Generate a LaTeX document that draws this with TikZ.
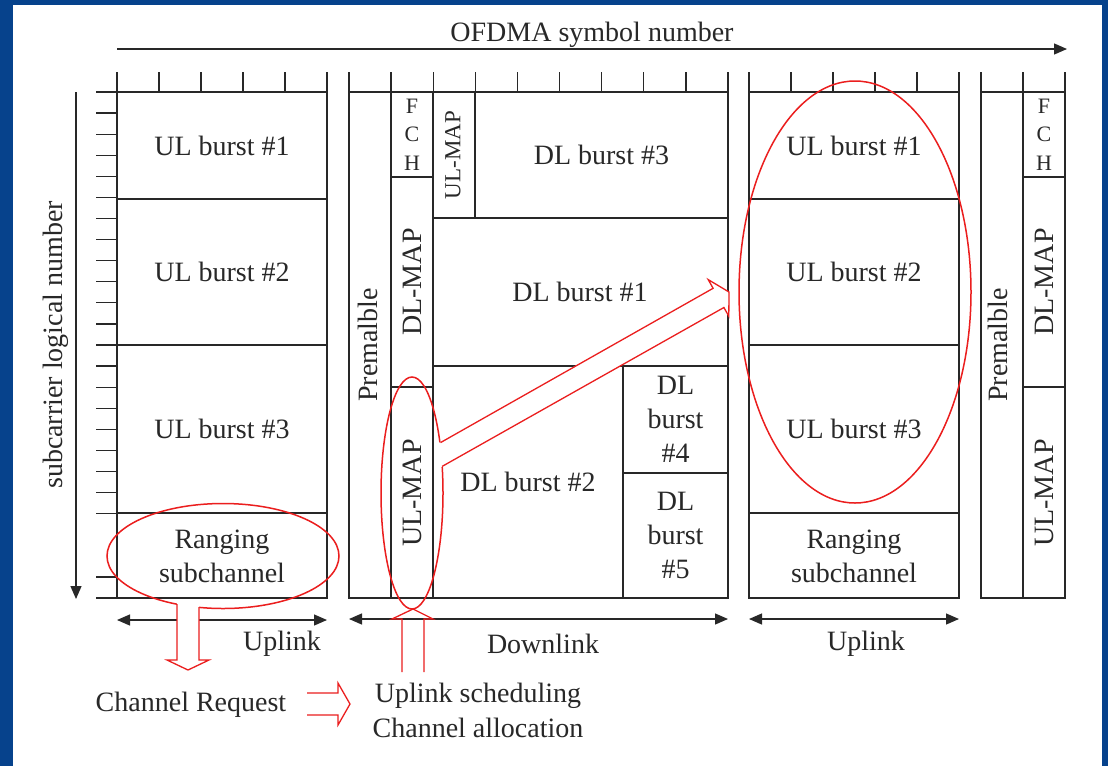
\documentclass[tikz,border=0pt]{standalone}
\usepackage{fontspec}
\setmainfont{Liberation Serif}
\usetikzlibrary{arrows.meta,shapes.geometric}
\definecolor{frameblue}{RGB}{6,66,140}
\definecolor{ink}{RGB}{40,40,40}
\definecolor{mark}{RGB}{235,30,30}

\begin{document}
\begin{tikzpicture}[x=1pt,y=-1pt,
  Tri/.tip={Triangle[length=13pt,width=11pt]},
  grid/.style={draw=ink, line width=1.25pt},
  lbl/.style={text=ink, font=\fontsize{28}{34}\selectfont, inner sep=0pt, align=center},
  fchtext/.style={lbl, font=\fontsize{22}{28.5}\selectfont},
  axis/.style={draw=ink, line width=1.25pt, Tri-Tri},
  ring/.style={draw=mark, line width=1.5pt, ellipse, inner sep=0pt},
  hollow/.style={draw=mark, line width=1.3pt, line join=miter},
]
% frame
\fill[frameblue] (0,0) rectangle (1108,766);
\fill[white] (13,5) rectangle (1102,766);
\useasboundingbox (0,0) rectangle (1108,766);

% ---------- first uplink sub-frame ----------
\foreach \k in {0,...,5} \draw[grid] ({117+42*\k},72) -- ++(0,20);
\foreach \k in {0,...,20,23,24} \draw[grid] (96,{92+21.083*\k}) -- ++(21,0);
\draw[grid] (117,92) rectangle (327,598);
\draw[grid] (117,199) -- (327,199) (117,345) -- (327,345) (117,513) -- (327,513);
\node[lbl] (ulA1) at (222,145.5) {UL burst \#1};
\node[lbl] (ulA2) at (222,272) {UL burst \#2};
\node[lbl] (ulA3) at (222,429) {UL burst \#3};
\node[lbl] (rngA) at (222,556.5) {Ranging\\subchannel};

% ---------- downlink sub-frame ----------
\foreach \k in {0,...,9} \draw[grid] ({349+42.11*\k},72) -- ++(0,20);
\draw[grid] (349,92) rectangle (728,598);
\draw[grid] (391,92) -- (391,598) (433,92) -- (433,598);
\draw[grid] (391,177) -- (433,177) (391,387) -- (433,387);
\draw[grid] (475,92) -- (475,218) (433,218) -- (728,218) (433,366) -- (728,366);
\draw[grid] (623,366) -- (623,598) (623,473) -- (728,473);
\node[lbl, rotate=90] (preB) at (368,345) {Premalble};
\node[fchtext] (fchB) at (412,134.5) {F\\C\\H};
\node[lbl, rotate=90] (dlmapB) at (412,282) {DL-MAP};
\node[lbl, rotate=90] (ulmapB) at (412,493) {UL-MAP};
\node[lbl, rotate=90, font=\fontsize{23}{28}\selectfont] (ulmapT) at (453,155) {UL-MAP};
\node[lbl] (dl3) at (601.5,155) {DL burst \#3};
\node[lbl] (dl1) at (580,292) {DL burst \#1};
\node[lbl] (dl2) at (528,482) {DL burst \#2};
\node[lbl] (dl4) at (675.5,419.5) {DL\\burst\\\#4};
\node[lbl] (dl5) at (675.5,535.5) {DL\\burst\\\#5};

% ---------- second uplink sub-frame ----------
\foreach \k in {0,...,5} \draw[grid] ({749+42*\k},72) -- ++(0,20);
\draw[grid] (749,92) rectangle (959,598);
\draw[grid] (749,199) -- (959,199) (749,345) -- (959,345) (749,513) -- (959,513);
\node[lbl] (ulC1) at (854,145.5) {UL burst \#1};
\node[lbl] (ulC2) at (854,272) {UL burst \#2};
\node[lbl] (ulC3) at (854,429) {UL burst \#3};
\node[lbl] (rngC) at (854,556.5) {Ranging\\subchannel};

% ---------- next downlink start ----------
\foreach \x in {981,1023,1065} \draw[grid] (\x,72) -- ++(0,20);
\draw[grid] (981,92) rectangle (1065,598);
\draw[grid] (1023,92) -- (1023,598) (1023,177) -- (1065,177) (1023,387) -- (1065,387);
\node[lbl, rotate=90] (preD) at (998,345) {Premalble};
\node[fchtext] (fchD) at (1044,134.5) {F\\C\\H};
\node[lbl, rotate=90] (dlmapD) at (1044,282) {DL-MAP};
\node[lbl, rotate=90] (ulmapD) at (1044,493) {UL-MAP};

% ---------- axes ----------
\coordinate (tA) at (117,49);
\coordinate (tB) at (1067,49);
\draw[draw=ink, line width=1.25pt, -Tri] (tA) -- (tB);
\node[lbl] (tlab) at (592,35) {OFDMA symbol number};
\coordinate (sA) at (76,92);
\coordinate (sB) at (76,599);
\draw[draw=ink, line width=1.25pt, -Tri] (sA) -- (sB);
\node[lbl, rotate=90] (slab) at (56,345) {subcarrier logical number};

\coordinate (u1a) at (117,620); \coordinate (u1b) at (327,620);
\coordinate (d1a) at (349,619); \coordinate (d1b) at (728,619);
\coordinate (u2a) at (749,619); \coordinate (u2b) at (959,619);
\draw[axis] (u1a) -- (u1b);
\draw[axis] (d1a) -- (d1b);
\draw[axis] (u2a) -- (u2b);
\node[lbl] (uplA) at (282,644) {Uplink};
\node[lbl] (dnl) at (543,644) {Downlink};
\node[lbl] (uplC) at (866,644) {Uplink};

\node[lbl] (req) at (191,705) {Channel Request};
\node[lbl] (sched) at (478,696) {Uplink scheduling};
\node[lbl] (alloc) at (478,728) {Channel allocation};

% ---------- highlights ----------
\node[ring, minimum width=232pt, minimum height=105pt] (ringR) at (223,556) {};
\node[ring, minimum width=62pt, minimum height=232pt] (ringM) at (412,493) {};
\node[ring, minimum width=232pt, minimum height=422pt] (ringU) at (855,292) {};

% ranging -> channel request
\fill[white] (177,600) -- (177,660) -- (167,660) -- (188,670) -- (209,660) -- (199,660) -- (199,600) -- cycle;
\draw[hollow] (177,604) -- (177,660) -- (167,660) -- (188,670) -- (209,660) -- (199,660) -- (199,607);

% channel request -> scheduling
\draw[hollow] (307,693) -- (338,693) -- (338,683) -- (350,704) -- (338,725) -- (338,715) -- (307,715);

% scheduling -> UL-MAP
\draw[hollow] (402,672) -- (402,619) -- (392,619) -- (413,609) -- (433,619) -- (424,619) -- (424,672);

% UL-MAP -> uplink bursts
\fill[white] (437,443.9) -- (713.1,288.3) -- (708.2,279.6) -- (729,292) -- (728.8,316.2) -- (723.9,307.5) -- (440,467.6) -- cycle;
\draw[hollow] (440.5,442.6) -- (713.1,288.3) -- (708.2,279.6) -- (729,292) -- (728.8,316.2) -- (723.9,307.5) -- (442.3,466.3);
\end{tikzpicture}
\end{document}
